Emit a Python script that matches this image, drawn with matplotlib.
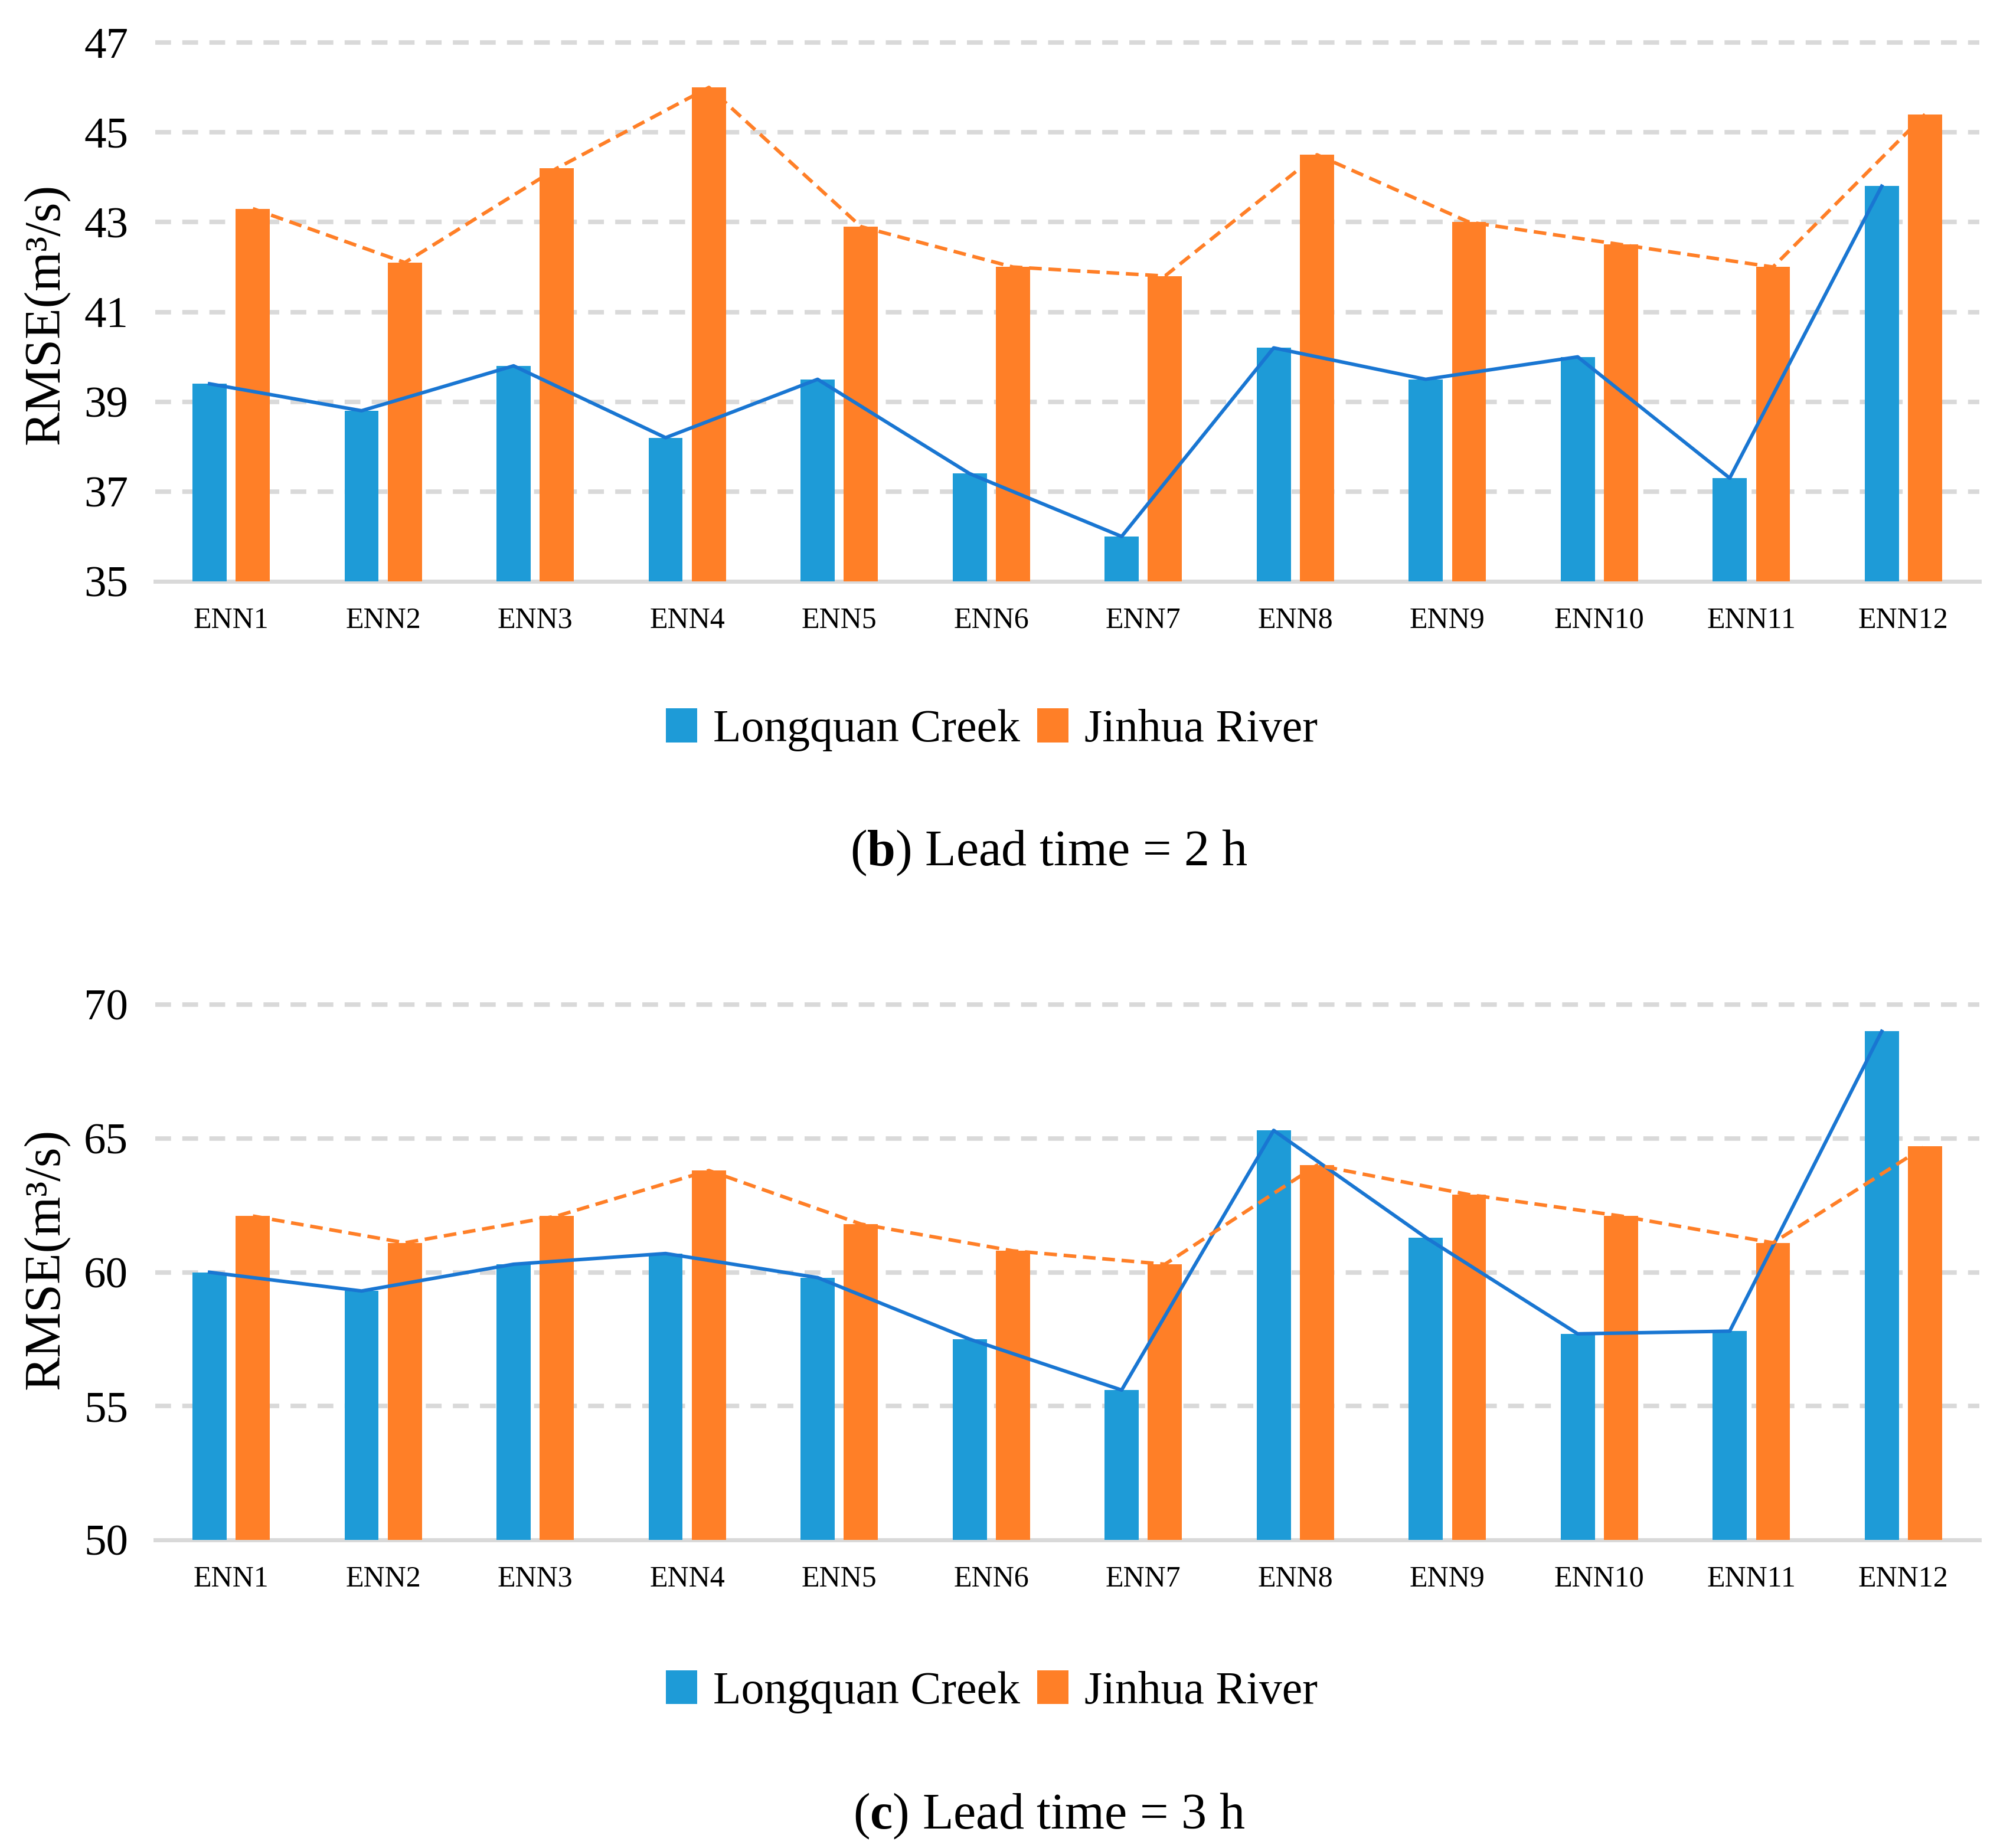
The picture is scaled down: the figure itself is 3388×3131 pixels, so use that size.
import numpy as np
import matplotlib
matplotlib.use("Agg")
import matplotlib.pyplot as plt

plt.rcParams['font.family'] = ['Liberation Serif', 'DejaVu Serif']
plt.rcParams['mathtext.fontset'] = 'custom'
plt.rcParams['mathtext.rm'] = 'Liberation Serif'
plt.rcParams['mathtext.bf'] = 'Liberation Serif:bold'

# data
models = ['ENN1', 'ENN2', 'ENN3', 'ENN4', 'ENN5', 'ENN6',
          'ENN7', 'ENN8', 'ENN9', 'ENN10', 'ENN11', 'ENN12']
series_names = ['Longquan Creek', 'Jinhua River']

# (b) lead time = 2 h
longquan_2h = [39.4, 38.8, 39.8, 38.2, 39.5, 37.4, 36.0, 40.2, 39.5, 40.0, 37.3, 43.8]
jinhua_2h = [43.3, 42.1, 44.2, 46.0, 42.9, 42.0, 41.8, 44.5, 43.0, 42.5, 42.0, 45.4]
yticks_2h = [35, 37, 39, 41, 43, 45, 47]

# (c) lead time = 3 h
longquan_3h = [60.0, 59.3, 60.3, 60.7, 59.8, 57.5, 55.6, 65.3, 61.3, 57.7, 57.8, 69.0]
jinhua_3h = [62.1, 61.1, 62.1, 63.8, 61.8, 60.8, 60.3, 64.0, 62.9, 62.1, 61.1, 64.7]
yticks_3h = [50, 55, 60, 65, 70]

blue = '#1E9BD7'
orange = '#FF7F27'
line_blue = '#1976D2'
grid_c = '#D9D9D9'

fig = plt.figure(figsize=(33.88, 31.31), dpi=100)

panels = [
    (longquan_2h, jinhua_2h, yticks_2h, [0.0776, 0.6854, 0.9121, 0.2916], 0.830, 0.605, 0.5315, 'b', '2'),
    (longquan_3h, jinhua_3h, yticks_3h, [0.0776, 0.1667, 0.9121, 0.2897], 0.3187, 0.0846, 0.0105, 'c', '3'),
]

x = np.arange(len(models))
w = 0.225
off = 0.1425

for lq, jh, yt, rect, ylab_y, leg_y, cap_y, letter, hours in panels:
    ax = fig.add_axes(rect)
    for v in yt[1:]:
        ax.axhline(v, color=grid_c, lw=5.5, ls=(0, (3.5, 2.5)), zorder=0, clip_on=False)
    b1 = ax.bar(x - off, lq, w, color=blue, zorder=2, label=series_names[0])
    b2 = ax.bar(x + off, jh, w, color=orange, zorder=2, label=series_names[1])
    ax.plot(x - off, lq, color=line_blue, lw=4.3, zorder=3)
    ax.plot(x + off, jh, color=orange, lw=4.3, ls=(0, (3.6, 1.9)), zorder=3)

    ax.set_xlim(-0.5, len(models) - 0.5)
    ax.set_ylim(yt[0], yt[-1])
    ax.set_yticks(yt)
    ax.set_xticks(x)
    ax.set_xticklabels(models, fontsize=36)
    ax.tick_params(axis='x', length=0, pad=31)
    ax.tick_params(axis='y', length=0, pad=33, labelsize=54)
    for s in ['top', 'right', 'left']:
        ax.spines[s].set_visible(False)
    ax.spines['bottom'].set_color(grid_c)
    ax.spines['bottom'].set_linewidth(5)
    ax.spines['bottom'].set_zorder(1)

    fig.text(0.023, ylab_y, 'RMSE(m³/s)', rotation=90, ha='center', va='center', fontsize=62)

    fig.legend(handles=[b1, b2], loc='center', bbox_to_anchor=(0.496, leg_y), ncol=2,
               frameon=False, fontsize=56, handlelength=0.68, handleheight=0.76,
               handletextpad=0.35, columnspacing=0.37, borderpad=0)

    fig.text(0.5245, cap_y, r'($\mathbf{' + letter + r'}$) Lead time = ' + hours + ' h',
             ha='center', va='baseline', fontsize=62)

fig.savefig('out.png', dpi=100)
